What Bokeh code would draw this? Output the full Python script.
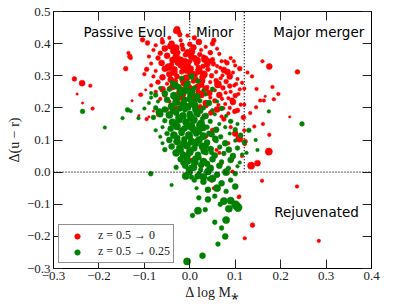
from bokeh.plotting import figure
from bokeh.models import (ColumnDataSource, Legend, LegendItem, Label, Span,
                          FixedTicker, LinearAxis, CustomJSTickFormatter, CustomLabelingPolicy)
from bokeh.embed import file_html
from bokeh.resources import INLINE

# ---------------- data ----------------
x_ticks = [-0.3, -0.2, -0.1, 0.0, 0.1, 0.2, 0.3, 0.4]
y_ticks = [-0.3, -0.2, -0.1, 0.0, 0.1, 0.2, 0.3, 0.4, 0.5]
divider_x = [0.0, 0.12]

red_dm = [
    -0.254, -0.237, -0.219, -0.248, -0.236, -0.214, -0.141, -0.135, -0.132, -0.130, -0.127,
    -0.107, -0.097, -0.093, -0.104, -0.061, -0.028, -0.025, -0.090, -0.080, -0.112,
    0.236, 0.284, 0.138, 0.121, 0.159, 0.135, 0.149, 0.174, 0.237, 0.160, 0.175, 0.220,
    0.195, 0.182, 0.185, 0.163, 0.166, 0.161, 0.175, 0.147, 0.137, 0.127, 0.155, 0.146,
    0.142, 0.133, 0.102, 0.078, 0.060, 0.053, 0.046, 0.108,
    0.120, 0.120, 0.118, 0.120, 0.122, 0.115, 0.004, 0.059, 0.048, 0.053, 0.094, 0.109,
    0.121, 0.093, 0.070, 0.055, 0.037, 0.109, -0.109, -0.070, -0.095, 0.046, 0.070, 0.074, 0.099,
    -0.030, -0.022, -0.005, 0.010, -0.045,
    -0.060, -0.040, -0.020, 0.000, 0.020, 0.035, -0.075, 0.050,
    -0.080, -0.055, -0.035, -0.015, 0.005, 0.025, 0.045, 0.065, -0.065,
    -0.090, -0.070, -0.050, -0.030, -0.010, 0.010, 0.030, 0.050, 0.070, 0.090, -0.020, 0.000,
    -0.085, -0.062, -0.040, -0.025, -0.005, 0.015, 0.038, 0.060, 0.082, 0.100, -0.015,
    -0.095, -0.075, -0.055, -0.035, -0.018, 0.002, 0.020, 0.040, 0.058, 0.075, 0.095, 0.110, -0.045, 0.012,
    -0.080, -0.060, -0.028, -0.008, 0.028, 0.048, 0.068, 0.088, 0.105, -0.100,
    -0.070, -0.050, -0.033, -0.012, 0.008, 0.025, 0.045, 0.062, 0.080, 0.098, 0.115, -0.085,
    -0.060, -0.040, -0.020, 0.000, 0.018, 0.035, 0.055, 0.073, 0.090, 0.110, -0.075,
    -0.055, -0.035, -0.015, 0.005, 0.025, 0.045, 0.065, 0.085, 0.100, -0.065,
    -0.045, -0.025, 0.012, 0.035, 0.055, 0.078, 0.095, 0.112,
    -0.030, 0.020, 0.060, 0.088, 0.105, -0.050,
    0.030, 0.075, 0.090, 0.100, 0.085, 0.065, 0.000, -0.020, 0.020, 0.050,
    -0.043, -0.031, -0.017, -0.004, 0.008, 0.022, 0.033, -0.038, -0.026, -0.011,
    0.003, 0.016, 0.029, 0.041, -0.047, -0.034, -0.021, -0.007, 0.006, 0.019,
    0.031, -0.042, -0.028, -0.014, 0.001, 0.014, 0.027, 0.039, -0.036, -0.023,
    -0.009, 0.004, 0.017, 0.030, -0.045, -0.019, 0.009, 0.036, -0.030, 0.023,
    0.052, 0.067, 0.083, 0.097, 0.058, 0.072, 0.088, 0.043, 0.079, 0.093,
    0.063, 0.107, 0.049, 0.085, 0.071,
]
red_dur = [
    0.290, 0.277, 0.269, 0.243, 0.215, 0.198, 0.322, 0.371, 0.360, 0.355, 0.222,
    0.241, 0.256, 0.402, 0.412, 0.414, 0.445, 0.437, 0.172, 0.190, 0.176,
    -0.045, -0.214, -0.165, -0.206, -0.027, 0.020, 0.028, 0.064, 0.312, 0.345, 0.329, 0.172,
    0.243, 0.265, 0.227, 0.223, 0.236, 0.150, 0.116, 0.259, 0.298, 0.310, 0.223, 0.202,
    0.142, 0.184, 0.274, 0.345, 0.384, 0.410, 0.371, -0.078,
    0.260, 0.210, 0.170, 0.130, 0.095, 0.050, 0.038, 0.069, -0.027, -0.050, 0.002, 0.104,
    0.087, 0.040, 0.028, 0.100, 0.112, -0.076, 0.241, 0.178, 0.165, 0.184, 0.173, 0.199, 0.189,
    0.440, 0.428, 0.425, 0.418, 0.418,
    0.405, 0.400, 0.410, 0.398, 0.405, 0.390, 0.395, 0.400,
    0.380, 0.385, 0.378, 0.383, 0.375, 0.380, 0.372, 0.368, 0.370,
    0.360, 0.355, 0.362, 0.358, 0.365, 0.355, 0.360, 0.350, 0.345, 0.355, 0.350, 0.345,
    0.338, 0.340, 0.335, 0.342, 0.333, 0.338, 0.336, 0.330, 0.340, 0.332, 0.327,
    0.320, 0.315, 0.322, 0.318, 0.312, 0.322, 0.315, 0.320, 0.312, 0.318, 0.310, 0.322, 0.305, 0.302,
    0.298, 0.295, 0.298, 0.292, 0.295, 0.300, 0.292, 0.298, 0.290, 0.305,
    0.280, 0.275, 0.282, 0.278, 0.283, 0.272, 0.280, 0.273, 0.282, 0.270, 0.278, 0.270,
    0.258, 0.262, 0.255, 0.262, 0.252, 0.260, 0.255, 0.262, 0.250, 0.258, 0.250,
    0.240, 0.235, 0.242, 0.236, 0.242, 0.232, 0.240, 0.230, 0.238, 0.228,
    0.220, 0.215, 0.222, 0.215, 0.222, 0.212, 0.218, 0.210,
    0.200, 0.198, 0.195, 0.200, 0.192, 0.195,
    0.175, 0.165, 0.140, 0.120, 0.090, 0.060, 0.150, 0.130, 0.100, 0.130,
    0.392, 0.386, 0.395, 0.371, 0.388, 0.366, 0.352, 0.349, 0.372, 0.343,
    0.361, 0.347, 0.329, 0.344, 0.327, 0.309, 0.331, 0.318, 0.306, 0.326,
    0.304, 0.288, 0.297, 0.287, 0.308, 0.289, 0.284, 0.265, 0.268, 0.248,
    0.271, 0.251, 0.266, 0.247, 0.262, 0.232, 0.229, 0.207, 0.226, 0.206,
    0.337, 0.325, 0.312, 0.345, 0.285, 0.301, 0.268, 0.246, 0.247, 0.224,
    0.209, 0.243, 0.188, 0.183, 0.228,
]
red_size = [
    4, 5, 3, 2, 2, 3, 4, 3, 4, 3, 2,
    3, 2, 4, 4, 3, 5, 4, 2, 2, 2,
    3, 3, 4, 3, 3, 6, 5, 6, 4, 3, 5, 2,
    3, 3, 3, 3, 2, 3, 3, 3, 3, 3, 3, 3,
    3, 3, 3, 3, 3, 4, 3, 3,
    3, 3, 4, 3, 4, 3, 3, 3, 3, 3, 3, 6,
    3, 3, 3, 3, 3, 3, 3, 3, 3, 4, 3, 3, 4,
    5, 4, 3, 4, 3,
    4, 5, 3, 4, 5, 3, 3, 4,
    3, 5, 6, 4, 5, 3, 4, 3, 4,
    3, 4, 5, 6, 4, 5, 3, 4, 3, 3, 5, 4,
    3, 5, 4, 6, 5, 4, 5, 3, 4, 3, 5,
    4, 3, 5, 6, 4, 5, 6, 4, 3, 5, 3, 4, 5, 4,
    3, 5, 4, 6, 5, 4, 3, 5, 3, 3,
    4, 3, 5, 6, 4, 5, 3, 6, 4, 3, 3, 3,
    5, 4, 6, 5, 4, 5, 3, 4, 3, 3, 3,
    4, 3, 5, 4, 6, 3, 5, 3, 4, 3,
    3, 4, 3, 5, 4, 3, 5, 3,
    3, 4, 5, 3, 4, 3,
    3, 4, 3, 5, 3, 3, 3, 2, 3, 4,
    5, 6, 4, 6, 5, 4, 6, 5, 4, 6,
    5, 6, 4, 5, 6, 5, 4, 6, 5, 4,
    6, 5, 4, 6, 5, 4, 5, 3, 6, 5,
    4, 6, 5, 4, 3, 5, 6, 4, 5, 3,
    4, 3, 5, 3, 4, 3, 4, 5, 3, 4,
    3, 3, 4, 3, 3,
]

green_dm = [
    -0.236, -0.187, -0.137, -0.148, -0.113, -0.130, -0.086, -0.040, 0.247, 0.174, 0.149,
    0.130, 0.145, 0.125, -0.085, -0.067,
    -0.018, 0.004, -0.040, 0.018, -0.005,
    -0.065, -0.045, -0.025, -0.008, 0.010, 0.030, 0.050,
    -0.075, -0.055, -0.035, -0.018, 0.000, 0.015, 0.035, -0.085,
    -0.070, -0.050, -0.030, -0.012, 0.005, 0.022, 0.042, 0.060, -0.090,
    -0.075, -0.055, -0.040, -0.022, -0.005, 0.012, 0.030, 0.050, 0.070, -0.100,
    -0.065, -0.045, -0.030, -0.015, 0.000, 0.018, 0.035, 0.055, 0.080, -0.080,
    -0.055, -0.038, -0.022, -0.008, 0.008, 0.025, 0.045, 0.065, 0.090, 0.105,
    -0.060, -0.042, -0.028, -0.012, 0.004, 0.020, 0.038, 0.058, 0.078, 0.100, -0.075,
    -0.050, -0.035, -0.018, -0.002, 0.014, 0.030, 0.048, 0.068, 0.088, 0.112, -0.065,
    -0.045, -0.028, -0.012, 0.004, 0.020, 0.038, 0.058, 0.078, 0.100, 0.120, -0.060,
    -0.040, -0.022, -0.006, 0.010, 0.028, 0.046, 0.066, 0.086, 0.105, -0.055,
    -0.030, -0.015, 0.000, 0.018, 0.036, 0.055, 0.075, 0.095, 0.115,
    -0.020, -0.005, 0.012, 0.030, 0.050, 0.070, 0.090, 0.110,
    -0.010, 0.008, 0.025, 0.045, 0.065, 0.085, 0.105, -0.030,
    0.000, 0.020, 0.040, 0.060, 0.080, 0.100,
    0.010, 0.030, 0.050, 0.070, 0.090, 0.040, 0.060, 0.080, 0.100, 0.015,
    0.020, 0.040, 0.055, 0.075, 0.090, 0.101, 0.106, 0.086, 0.067, 0.034, 0.018,
    0.006, 0.080, 0.055, 0.070, 0.078, 0.062, 0.028, -0.006,
    -0.033, -0.021, -0.009, 0.003, 0.015, -0.027, -0.014, -0.001, 0.011, 0.024,
    -0.037, -0.024, -0.011, 0.002, 0.016, 0.028, -0.031, -0.018, -0.004, 0.009,
    0.021, -0.026, -0.013, 0.000, 0.013, 0.026, -0.020, -0.007, 0.006, 0.019,
    0.032, -0.015, -0.002, 0.011, 0.024, 0.038, -0.009, 0.004, 0.017, 0.030,
    0.043, -0.004, 0.009, 0.022, 0.035, 0.048, 0.015, 0.029, 0.042, 0.056,
]
green_dur = [
    0.189, 0.139, 0.194, 0.168, 0.168, 0.190, -0.005, -0.040, 0.150, 0.189, 0.069,
    0.130, 0.100, 0.060, 0.246, 0.187,
    0.292, 0.298, 0.280, 0.283, 0.276,
    0.262, 0.258, 0.265, 0.255, 0.262, 0.255, 0.258,
    0.240, 0.245, 0.238, 0.245, 0.240, 0.235, 0.242, 0.232,
    0.220, 0.225, 0.218, 0.225, 0.215, 0.222, 0.215, 0.220, 0.215,
    0.200, 0.195, 0.205, 0.198, 0.203, 0.195, 0.200, 0.193, 0.198, 0.198,
    0.180, 0.178, 0.185, 0.175, 0.182, 0.178, 0.175, 0.180, 0.175, 0.170,
    0.160, 0.155, 0.162, 0.155, 0.160, 0.152, 0.158, 0.150, 0.158, 0.150,
    0.140, 0.135, 0.142, 0.136, 0.142, 0.135, 0.140, 0.132, 0.140, 0.132, 0.130,
    0.120, 0.115, 0.122, 0.115, 0.120, 0.112, 0.118, 0.110, 0.120, 0.115, 0.110,
    0.100, 0.095, 0.102, 0.095, 0.100, 0.092, 0.098, 0.090, 0.098, 0.092, 0.090,
    0.080, 0.075, 0.082, 0.074, 0.080, 0.072, 0.078, 0.070, 0.075, 0.070,
    0.060, 0.055, 0.062, 0.054, 0.060, 0.052, 0.058, 0.050, 0.055,
    0.040, 0.035, 0.042, 0.033, 0.040, 0.032, 0.038, 0.030,
    0.020, 0.015, 0.022, 0.012, 0.020, 0.012, 0.018, 0.015,
    0.000, -0.005, 0.002, -0.008, 0.000, -0.005,
    -0.025, -0.030, -0.020, -0.035, -0.025, -0.055, -0.050, -0.060, -0.045, -0.050,
    -0.080, -0.085, -0.075, -0.090, -0.089, -0.102, -0.110, -0.114, -0.100, -0.117, -0.120,
    -0.135, -0.149, -0.156, -0.174, -0.200, -0.224, -0.260, -0.278,
    0.271, 0.252, 0.268, 0.249, 0.229, 0.232, 0.211, 0.228, 0.208, 0.189,
    0.191, 0.168, 0.193, 0.171, 0.189, 0.166, 0.148, 0.129, 0.149, 0.131,
    0.147, 0.107, 0.088, 0.111, 0.090, 0.107, 0.068, 0.049, 0.071, 0.046,
    0.066, 0.028, 0.009, 0.031, 0.007, 0.026, -0.012, -0.016, -0.013, -0.015,
    -0.021, 0.142, 0.163, 0.124, 0.082, 0.061, 0.183, 0.139, 0.121, 0.104,
]
green_size = [
    4, 3, 4, 3, 3, 3, 4, 3, 4, 3, 3,
    4, 3, 3, 3, 6,
    4, 5, 3, 4, 5,
    3, 4, 5, 6, 4, 3, 4,
    4, 5, 6, 5, 4, 6, 3, 3,
    3, 5, 6, 5, 6, 4, 5, 3, 3,
    4, 5, 6, 5, 6, 5, 4, 3, 4, 3,
    5, 6, 5, 6, 5, 4, 5, 3, 3, 4,
    4, 6, 5, 6, 5, 6, 4, 3, 4, 3,
    3, 5, 6, 5, 6, 5, 4, 5, 3, 4, 3,
    4, 6, 5, 6, 5, 6, 5, 4, 3, 4, 3,
    5, 6, 5, 6, 6, 5, 4, 5, 3, 4, 3,
    5, 6, 6, 5, 6, 5, 4, 5, 4, 4,
    6, 5, 6, 5, 4, 5, 4, 5, 3,
    5, 6, 5, 6, 5, 4, 5, 3,
    5, 6, 5, 6, 5, 4, 3, 4,
    5, 4, 6, 5, 6, 4,
    4, 5, 6, 5, 4, 5, 6, 4, 5, 3,
    4, 5, 4, 6, 6, 7, 7, 6, 4, 4, 6,
    4, 6, 4, 4, 5, 4, 5, 6,
    6, 5, 4, 6, 5, 4, 6, 5, 6, 4,
    5, 6, 4, 6, 5, 4, 6, 5, 4, 6,
    5, 4, 6, 5, 6, 4, 5, 6, 4, 5,
    6, 4, 5, 6, 4, 5, 6, 4, 5, 6,
    4, 5, 6, 4, 5, 4, 5, 6, 4, 5,
]

series_labels = ["z = 0.5 \u2192 0", "z = 0.5 \u2192 0.25"]
region_names = ["Passive Evol", "Minor", "Major merger", "Rejuvenated"]

# ---------------- figure ----------------
SERIF = "Liberation Serif"
SANS = "DejaVu Sans"
MARKER_SCALE = 1.2

p = figure(width=398, height=307, x_range=(-0.3, 0.4), y_range=(-0.3, 0.5),
           output_backend="svg", toolbar_location=None,
           min_border_left=53, min_border_right=14, min_border_top=11, min_border_bottom=39)
p.grid.visible = False
p.outline_line_color = "black"
p.outline_line_width = 1
p.background_fill_color = "white"
p.border_fill_color = "white"

fmt = CustomJSTickFormatter(code="return (tick < -1e-9 ? '\\u2212' : '') + Math.abs(tick).toFixed(1);")


def style_axis(ax, ticks, show_labels):
    ax.ticker = FixedTicker(ticks=ticks)
    ax.formatter = fmt
    ax.major_tick_in = 9
    ax.major_tick_out = 0
    ax.minor_tick_line_color = None
    ax.axis_line_color = "black"
    ax.major_tick_line_color = "#222222"
    ax.major_label_text_font = SERIF
    ax.major_label_text_color = "#222222"
    ax.major_label_text_font_size = "13px"
    if show_labels:
        ax.major_label_standoff = 3
    else:
        ax.major_label_standoff = 0
        ax.major_label_policy = CustomLabelingPolicy(code="return false")


style_axis(p.xaxis[0], x_ticks, True)
style_axis(p.yaxis[0], y_ticks, True)
p.xaxis[0].axis_label = "\u0394 log M\u204e"
p.yaxis[0].axis_label = "\u0394(u \u2212 r)"
for ax in (p.xaxis[0], p.yaxis[0]):
    ax.axis_label_text_font = SERIF
    ax.axis_label_text_font_size = "14px"
    ax.axis_label_text_font_style = "normal"
    ax.axis_label_standoff = 2
    ax.axis_label_text_color = "#222222"

top_ax = LinearAxis()
right_ax = LinearAxis()
style_axis(top_ax, x_ticks, False)
style_axis(right_ax, y_ticks, False)
p.add_layout(top_ax, "above")
p.add_layout(right_ax, "right")

# reference lines
p.add_layout(Span(location=0.0, dimension="width", line_color="black",
                  line_dash="1 2", line_width=1.3))
p.segment(x0=divider_x, y0=[0.0, 0.0], x1=divider_x, y1=[0.5, 0.5],
          line_color="black", line_dash="1 2", line_width=1.3)

red_src = ColumnDataSource(dict(x=red_dm, y=red_dur, s=[v * MARKER_SCALE for v in red_size]))
green_src = ColumnDataSource(dict(x=green_dm, y=green_dur, s=[v * MARKER_SCALE for v in green_size]))
r_red = p.scatter("x", "y", size="s", source=red_src, fill_color="#ff0000",
                  line_color="#ff0000", line_width=0.5)
r_green = p.scatter("x", "y", size="s", source=green_src, fill_color="#008000",
                    line_color="#008000", line_width=0.5)

# region labels
label_pos = [(-0.143, 0.437), (0.055, 0.437), (0.284, 0.437), (0.279, -0.125)]
for name, (lx, ly) in zip(region_names, label_pos):
    p.add_layout(Label(x=lx, y=ly, text=name, text_align="center", text_baseline="middle",
                       text_font=SANS, text_font_size="13.5px", text_color="black"))

legend = Legend(items=[LegendItem(label=series_labels[0], renderers=[r_red]),
                       LegendItem(label=series_labels[1], renderers=[r_green])],
                location="bottom_left")
legend.margin = 5
legend.padding = 3
legend.spacing = 1
legend.glyph_width = 30
legend.glyph_height = 14
legend.label_height = 14
legend.label_standoff = 6
legend.label_text_font = SERIF
legend.label_text_font_size = "12px"
legend.label_text_color = "#222222"
legend.border_line_color = "#222222"
legend.border_line_width = 1
legend.background_fill_color = "white"
legend.background_fill_alpha = 1.0
p.add_layout(legend, "center")

open("out.html", "w").write(file_html(p, INLINE))
